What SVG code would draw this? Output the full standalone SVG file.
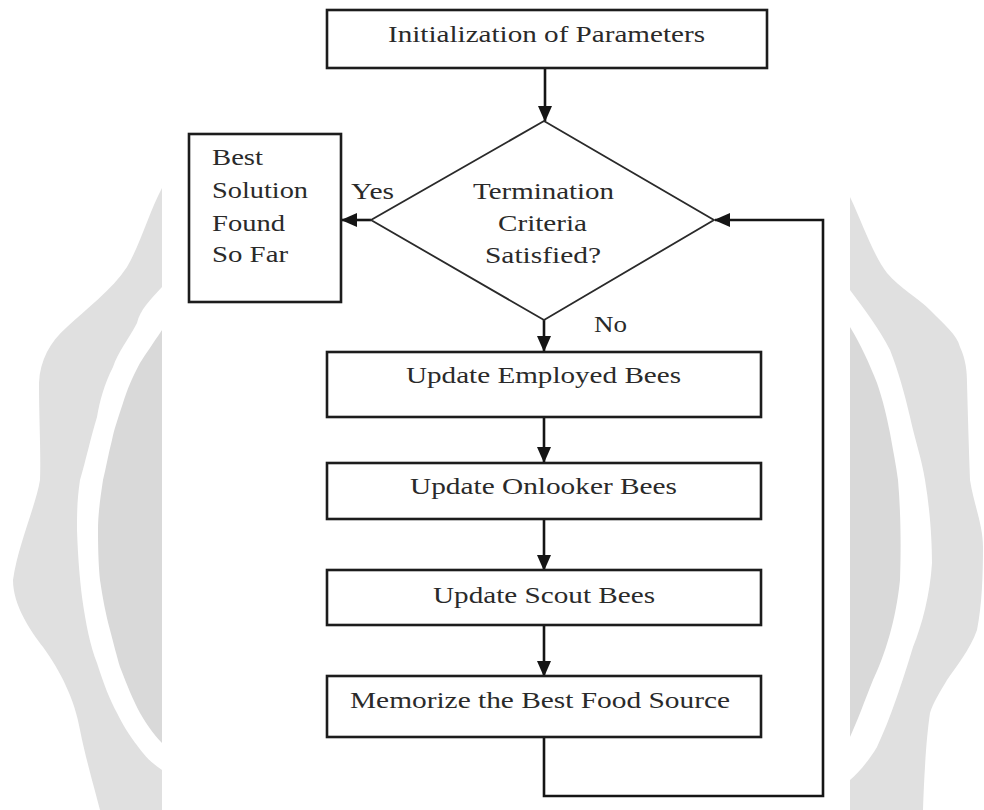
<svg xmlns="http://www.w3.org/2000/svg" width="984" height="810" viewBox="0 0 984 810">
<style>
.bg{fill:#ffffff}
.wm{fill:#e0e0e0}
.wmi{fill:#d9d9d9}
.wmw{fill:#ffffff}
.box{fill:#ffffff;stroke:#1c1c1c;stroke-width:2.6}
.dia{fill:#ffffff;stroke:#2a2a2a;stroke-width:1.8}
.t{font-family:"Liberation Serif","Times New Roman",serif;font-size:24px;fill:#2a2a2a}
.c{fill:none;stroke:#151515;stroke-width:2.6}
</style>
<defs>
<marker id="ah" markerUnits="userSpaceOnUse" markerWidth="16" markerHeight="14" refX="15" refY="7" orient="auto">
<path d="M0,0 L16,7 L0,14 Z" fill="#151515"/>
</marker>
</defs>
<rect class="bg" x="0" y="0" width="984" height="810"/>
<g id="watermark">
<path class="wm" d="M162,188 C150,210 140,245 127,267 C112,290 85,310 67,327 C50,342 40,360 39,383 C39,420 41,455 40,480 C36,505 18,545 13,580 C13,605 30,630 43,647 C60,670 75,700 80,730 C86,760 95,790 100,810 L162,810 Z"/>
<path class="wmw" d="M162,287 C150,300 140,310 137,323 C128,340 118,352 113,367 C104,385 100,400 97,417 C90,440 86,460 80,480 C77,500 77,515 77,530 C78,560 80,580 82,597 C86,625 90,645 97,663 C104,685 110,700 117,713 C128,735 137,745 143,753 C150,762 158,767 162,770 Z"/>
<path class="wmi" d="M162,330 C152,345 145,355 140,363 C132,378 127,390 123,403 C118,418 114,430 112,440 C108,455 106,468 103,480 C100,500 98,515 98,530 C98,555 99,570 100,580 C103,600 106,615 110,630 C114,645 117,657 120,667 C127,685 133,700 140,713 C148,727 156,737 162,743 Z"/>
<path class="wm" d="M850,197 C862,222 873,255 887,273 C900,288 918,298 930,310 C945,325 957,335 960,347 C966,360 967,372 967,383 C968,420 969,455 970,480 C974,505 983,525 983,547 C983,575 982,605 977,630 C970,650 955,668 947,680 C940,692 933,703 930,713 C926,740 924,780 923,810 L850,810 Z"/>
<path class="wmw" d="M850,290 C865,310 880,330 890,350 C898,370 905,395 910,417 C915,440 922,460 925,480 C930,510 932,540 932,563 C930,595 922,625 913,647 C903,680 890,720 877,747 C868,762 858,773 850,780 Z"/>
<path class="wmi" d="M850,327 C860,343 870,365 877,383 C883,400 887,418 890,433 C893,450 896,465 898,480 C901,515 901,550 900,580 C896,620 885,655 873,680 C865,700 857,722 850,737 Z"/>
</g>
<g id="connectors">
<path class="c" d="M545,68 L545,121" marker-end="url(#ah)"/>
<path class="c" d="M371,220 L342,220" marker-end="url(#ah)"/>
<path class="c" d="M544,320 L544,351" marker-end="url(#ah)"/>
<path class="c" d="M544,417 L544,462" marker-end="url(#ah)"/>
<path class="c" d="M544,519 L544,570" marker-end="url(#ah)"/>
<path class="c" d="M544,624 L544,676" marker-end="url(#ah)"/>
<path class="c" d="M544,737 L544,796 L823,796 L823,220 L715,220" marker-end="url(#ah)"/>
</g>
<g id="init">
<rect class="box" x="327" y="10" width="440" height="58"/>
<text class="t" x="388" y="42" textLength="317" lengthAdjust="spacingAndGlyphs">Initialization of Parameters</text>
</g>
<g id="decision">
<polygon class="dia" points="544,121 714,220 544,320 371,220"/>
<text class="t" x="473" y="199" textLength="141" lengthAdjust="spacingAndGlyphs">Termination</text>
<text class="t" x="498" y="231" textLength="89" lengthAdjust="spacingAndGlyphs">Criteria</text>
<text class="t" x="485" y="263" textLength="116" lengthAdjust="spacingAndGlyphs">Satisfied?</text>
</g>
<g id="labels">
<text class="t" x="351" y="199" textLength="43" lengthAdjust="spacingAndGlyphs">Yes</text>
<text class="t" x="594" y="332" textLength="33" lengthAdjust="spacingAndGlyphs">No</text>
</g>
<g id="best">
<rect class="box" x="189" y="134" width="152" height="168"/>
<text class="t" x="212" y="165" textLength="51" lengthAdjust="spacingAndGlyphs">Best</text>
<text class="t" x="212" y="198" textLength="96" lengthAdjust="spacingAndGlyphs">Solution</text>
<text class="t" x="212" y="231" textLength="73" lengthAdjust="spacingAndGlyphs">Found</text>
<text class="t" x="212" y="262" textLength="76" lengthAdjust="spacingAndGlyphs">So Far</text>
</g>
<g id="employed">
<rect class="box" x="327" y="352" width="434" height="65"/>
<text class="t" x="406" y="383" textLength="275" lengthAdjust="spacingAndGlyphs">Update Employed Bees</text>
</g>
<g id="onlooker">
<rect class="box" x="327" y="463" width="434" height="56"/>
<text class="t" x="410" y="494" textLength="267" lengthAdjust="spacingAndGlyphs">Update Onlooker Bees</text>
</g>
<g id="scout">
<rect class="box" x="327" y="570" width="434" height="55"/>
<text class="t" x="433" y="603" textLength="222" lengthAdjust="spacingAndGlyphs">Update Scout Bees</text>
</g>
<g id="memorize">
<rect class="box" x="327" y="676" width="434" height="61"/>
<text class="t" x="350" y="708" textLength="380" lengthAdjust="spacingAndGlyphs">Memorize the Best Food Source</text>
</g>
</svg>
